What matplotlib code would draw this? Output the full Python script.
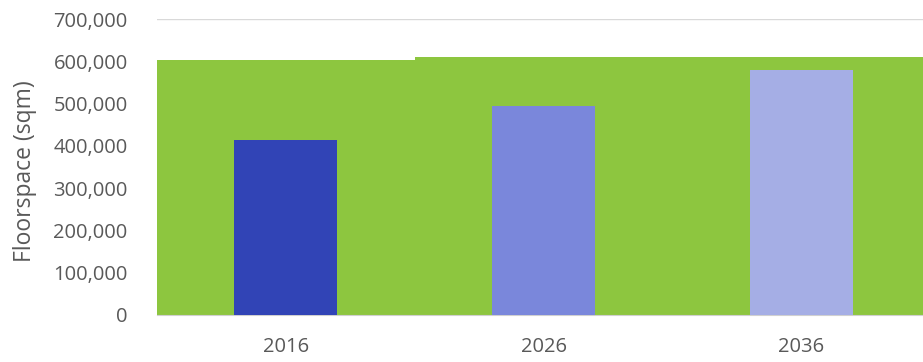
import numpy as np
import matplotlib.pyplot as plt
from matplotlib.ticker import FuncFormatter

# data
years = ["2016", "2026", "2036"]
capacity = [603000, 610000, 610000]     # green background series
floorspace = [414000, 494000, 579000]   # blue bars
bar_colors = ["#3144B6", "#7A87DB", "#A5AEE5"]

plt.rcParams['font.family'] = ['Open Sans', 'DejaVu Sans']

fig = plt.figure(figsize=(9.23, 3.62), dpi=100)
ax = fig.add_axes([0.170, 0.130, 0.838, 0.8175])

x = np.arange(len(years))
#green bars fill the whole category width
ax.bar(x, capacity, width=1.0, color="#8DC63F", zorder=2)
ax.bar(x, floorspace, width=0.4, color=bar_colors, zorder=3)

ax.set_xlim(-0.5, 2.5)
ax.set_ylim(0, 700000)
ax.set_yticks(np.arange(0, 700001, 100000))
ax.yaxis.set_major_formatter(FuncFormatter(lambda v, p: "{:,.0f}".format(v)))
ax.set_xticks(x)
ax.set_xticklabels(years)

ax.grid(axis="y", color="#D9D9D9", linewidth=1, zorder=0)
ax.set_axisbelow(True)
for s in ["top", "right", "left"]:
    ax.spines[s].set_visible(False)
ax.spines["bottom"].set_color("#D0D0D0")
ax.tick_params(axis="both", length=0, labelsize=14.5, colors="#595959")
ax.tick_params(axis="y", pad=21)
ax.tick_params(axis="x", pad=16)
ax.set_ylabel("Floorspace (sqm)", fontsize=16.5, color="#595959")
ax.yaxis.set_label_coords(-0.155, 0.486)

fig.savefig("out.png", dpi=100)
